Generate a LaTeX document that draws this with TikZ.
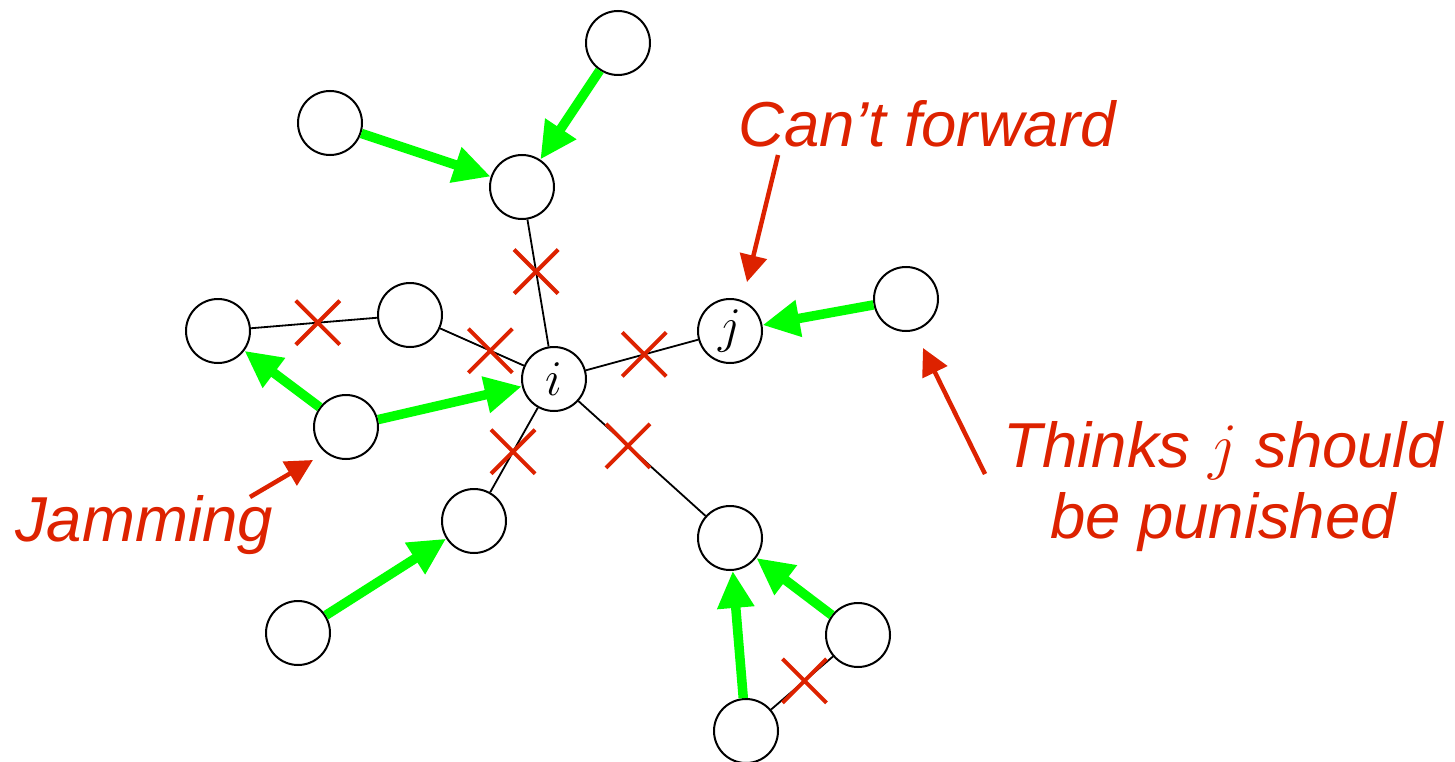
\RequirePackage{fix-cm}
\documentclass[tikz,border=0pt]{standalone}
\usepackage{fontspec}
\setmainfont{Liberation Sans}
\usetikzlibrary{arrows.meta,shapes.misc}

\definecolor{fwdgreen}{RGB}{0,255,0}
\definecolor{markred}{RGB}{221,34,0}

\begin{document}
\begin{tikzpicture}[x=1pt,y=-1pt,
    nd/.style={circle,draw,fill=white,line width=2pt,minimum size=64pt,inner sep=0pt,
      font=\fontsize{50}{50}\selectfont},
    link/.style={line width=1.8pt},
    cut/.style={cross out,draw=markred,line width=4pt,minimum size=40pt,inner sep=0pt},
    relay/.style={draw=fwdgreen,line width=9.5pt,-{Triangle[length=37pt,width=35pt]}},
    note/.style={draw=markred,line width=4.5pt,-{Triangle[length=27pt,width=27pt]}},
    lbl/.style={text=markred,inner sep=0pt,font=\fontsize{63.5}{71}\selectfont\itshape}]
      \useasboundingbox (0,0) rectangle (1455,762);

      \node[nd] (i) at (554,379) {$i$};
      \node[nd] (j) at (730,331) {$j$};
      \node[nd] (1) at (618,43) {};
      \node[nd] (2) at (330,123) {};
      \node[nd] (3) at (522,187) {};
      \node[nd] (4) at (410,315) {};
      \node[nd] (5) at (218,331) {};
      \node[nd] (6) at (346,427) {};
      \node[nd] (7) at (474,521) {};
      \node[nd] (8) at (298,633) {};
      \node[nd] (9) at (730,538) {};
      \node[nd] (10) at (858,635) {};
      \node[nd] (11) at (746,731) {};
      \node[nd] (12) at (906,299) {};

      % links that get cut
      \draw[link] (3) -- node[cut,pos=.41] {} (i);
      \draw[link] (4) -- node[cut,pos=.6] {} (i);
      \draw[link] (5) -- node[cut,pos=.53] {} (4);
      \draw[link] (i) -- node[cut,pos=.52] {} (j);
      \draw[link] (i) -- node[cut,pos=.52] {} (7);
      \draw[link] (i) -- node[cut,pos=.39] {} (9);
      \draw[link] (11) -- node[cut,pos=.54] {} (10);

      % forwarding
      \draw[relay] (2) -- (3);
      \draw[relay] (1) -- (3);
      \draw[relay] (6) -- (5);
      \draw[relay] (6) -- (i);
      \draw[relay] (12) -- (j);
      \draw[relay] (8) -- (7);
      \draw[relay] (11) -- (9);
      \draw[relay] (10) -- (9);

      \node[lbl,anchor=base west] (cant) at (738,147) {Can’t forward};
      \node[lbl,anchor=base west] (jam) at (15,541) {Jamming};
      \node[lbl,align=center,anchor=base] (thinks) at (1223,538)
        {Thinks $j$ should\\be punished};

      \coordinate (c1) at (778,155);
      \coordinate (c2) at (747,282);
      \coordinate (t1) at (985,474);
      \coordinate (t2) at (923,348);
      \coordinate (m1) at (250,497);
      \coordinate (m2) at (313,460);
      \draw[note] (c1) -- (c2);
      \draw[note] (t1) -- (t2);
      \draw[note] (m1) -- (m2);
    \end{tikzpicture}
\end{document}
